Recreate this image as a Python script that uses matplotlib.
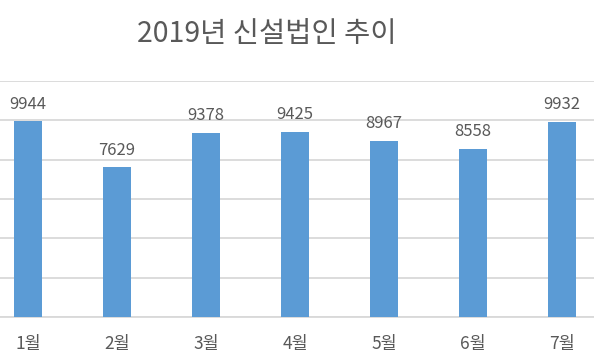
import matplotlib
matplotlib.use('Agg')
import matplotlib.pyplot as plt

plt.rcParams['font.family'] = ['Noto Sans CJK KR', 'DejaVu Sans']

months = ['1월', '2월', '3월', '4월', '5월', '6월', '7월']
counts = [9944, 7629, 9378, 9425, 8967, 8558, 9932]
title = '2019년 신설법인 추이'

bar_color = '#5B9BD5'
text_color = '#595959'
grid_color = '#D9D9D9'

fig = plt.figure(figsize=(5.94, 3.64), dpi=100)
ax = fig.add_axes([0, 47 / 364, 1, 236 / 364])

x = list(range(len(months)))
bars = ax.bar(x, counts, width=0.315, color=bar_color, zorder=3)

# value labels above each bar
for rect, val in zip(bars, counts):
    ax.annotate(str(val), (rect.get_x() + rect.get_width() / 2, rect.get_height()),
                xytext=(0, 6), textcoords='offset points', ha='center', va='bottom',
                fontsize=12, color=text_color)

ax.set_xlim(-0.315, 6.36)
ax.set_ylim(0, 12000)
ax.set_yticks(range(0, 12001, 2000))
ax.yaxis.grid(True, color=grid_color, linewidth=1.3, zorder=0)
ax.set_yticklabels([])
ax.tick_params(axis='y', length=0)
ax.set_xticks(x)
ax.set_xticklabels(months, fontsize=12.5, color=text_color)
ax.tick_params(axis='x', length=0, pad=13)
for s in ['top', 'right', 'left']:
    ax.spines[s].set_visible(False)
ax.spines['bottom'].set_color(grid_color)
ax.spines['bottom'].set_linewidth(1.3)

fig.text(267 / 594, 1 - 34 / 364, title, ha='center', va='center',
         fontsize=20.5, color=text_color)

fig.savefig('out.png', dpi=100)
